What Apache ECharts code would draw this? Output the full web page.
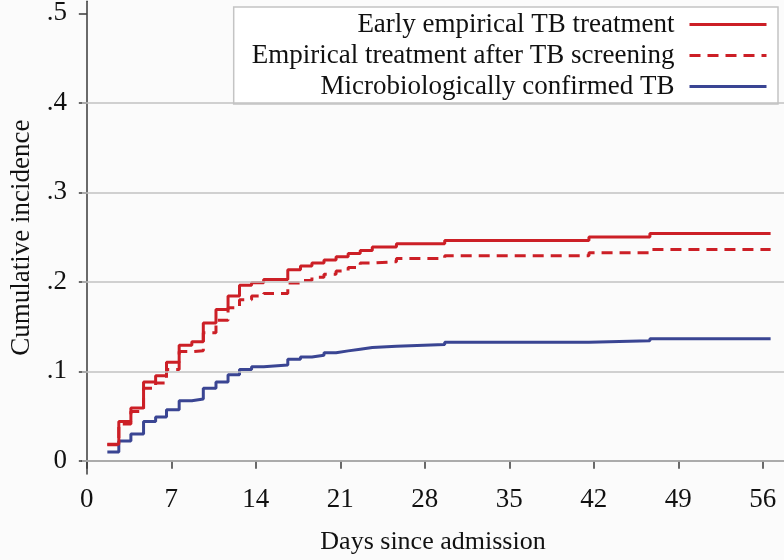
<!DOCTYPE html>
<html>
<head>
<meta charset="utf-8">
<script src="https://cdn.jsdelivr.net/npm/echarts@6/dist/echarts.min.js"></script>
<style>
html,body{margin:0;padding:0;background:#fbfbfb;}
#c{width:784px;height:560px;}
</style>
</head>
<body>
<div id="c"></div>
<script>
// Days since admission at which the step curves change
const days = [1.7, 2.65, 3.65, 4.7, 5.7, 6.6, 7.65, 8.7, 9.65, 10.7, 11.7, 12.65, 13.65, 14.65, 16.65, 17.7, 18.65, 19.65, 20.65, 21.65, 22.65, 23.65, 25.65, 29.65, 41.6, 46.65, 56.65];
const earlyEmpirical = [0.0185, 0.044, 0.059, 0.088, 0.095, 0.110, 0.129, 0.133, 0.154, 0.169, 0.184, 0.196, 0.199, 0.2025, 0.2135, 0.2177, 0.221, 0.2243, 0.228, 0.2315, 0.235, 0.239, 0.2425, 0.246, 0.250, 0.254, 0.254];
const afterScreening = [0.018, 0.041, 0.055, 0.081, 0.087, 0.102, 0.122, 0.123, 0.143, 0.157, 0.171, 0.180, 0.184, 0.187, 0.1986, 0.2015, 0.205, 0.2085, 0.212, 0.216, 0.221, 0.2225, 0.226, 0.229, 0.2325, 0.236, 0.236];
const microConfirmed = [0.0097, 0.022, 0.030, 0.044, 0.049, 0.057, 0.067, 0.069, 0.081, 0.088, 0.096, 0.102, 0.105, 0.107, 0.1135, 0.116, 0.118, 0.1206, 0.1228, 0.1247, 0.1265, 0.128, 0.130, 0.1325, 0.134, 0.1364, 0.1364];
const seriesNames = ['Early empirical TB treatment', 'Empirical treatment after TB screening', 'Microbiologically confirmed TB'];
const xTickValues = [0, 7, 14, 21, 28, 35, 42, 49, 56];
const yTickValues = [0, 0.1, 0.2, 0.3, 0.4, 0.5];
const yTickLabels = ['0', '.1', '.2', '.3', '.4', '.5'];
const yGridValues = [0, 0.1, 0.2, 0.3, 0.4];

const FONT = '"Liberation Serif", "Times New Roman", serif';
const RED = '#cc1f26';
const BLUE = '#3a4593';
const pairs = arr => days.map((d, i) => [d, arr[i]]);

const chart = echarts.init(document.getElementById('c'), null, {renderer: 'canvas'});
chart.setOption({
  backgroundColor: '#fbfbfb',
  animation: false,
  grid: {left: 79, right: 0, top: 0, bottom: 79, containLabel: false},
  xAxis: {
    type: 'value', min: -0.4, max: 57.76,
    name: 'Days since admission', nameLocation: 'middle', nameGap: 55,
    nameTextStyle: {fontFamily: FONT, fontSize: 26, color: '#111'},
    axisLine: {show: true, lineStyle: {color: '#3a3a3a', width: 1.5}},
    axisTick: {show: true, length: 8, inside: false, customValues: xTickValues, lineStyle: {color: '#3a3a3a', width: 1.5}},
    axisLabel: {customValues: xTickValues, margin: 12, fontFamily: FONT, fontSize: 27, color: '#111'},
    splitLine: {show: false}
  },
  yAxis: {
    type: 'value', min: -0.0148, max: 0.5134,
    name: 'Cumulative incidence', nameLocation: 'middle', nameGap: 47,
    nameTextStyle: {fontFamily: FONT, fontSize: 27, color: '#111'},
    axisLine: {show: true, lineStyle: {color: '#3a3a3a', width: 1.5}},
    axisTick: {show: true, length: 8, inside: false, customValues: yTickValues, lineStyle: {color: '#3a3a3a', width: 1.5}},
    axisLabel: {
      customValues: yTickValues, margin: 15, fontFamily: FONT, fontSize: 27, color: '#111',
      formatter: v => {
        let best = 0;
        yTickValues.forEach((t, i) => { if (Math.abs(t - v) < Math.abs(yTickValues[best] - v)) best = i; });
        return yTickLabels[best];
      }
    },
    splitLine: {show: false}
  },
  legend: {
    orient: 'vertical', right: 6, top: 7, align: 'right',
    data: seriesNames,
    itemWidth: 77, itemHeight: 2, itemGap: 4,
    padding: [4, 10, 4, 18],
    itemStyle: {opacity: 0},
    lineStyle: {width: 3},
    backgroundColor: '#ffffff', borderColor: '#c4c4c4', borderWidth: 1.5,
    textStyle: {fontFamily: FONT, fontSize: 27, color: '#111', padding: [0, 10, 0, 0]},
    selectedMode: false
  },
  series: [
    {
      type: 'line', name: '__grid', data: [], silent: true, z: 1,
      markLine: {
        silent: true, symbol: 'none', animation: false,
        label: {show: false},
        lineStyle: {color: '#c2c2c2', width: 1.5, type: 'solid'},
        data: yGridValues.map(v => ({yAxis: v}))
      }
    },
    {
      type: 'line', name: seriesNames[1], data: pairs(afterScreening), step: 'end', symbol: 'none', z: 3,
      lineStyle: {color: RED, width: 3, type: [11, 7]}, itemStyle: {color: RED}
    },
    {
      type: 'line', name: seriesNames[0], data: pairs(earlyEmpirical), step: 'end', symbol: 'none', z: 4,
      lineStyle: {color: RED, width: 3}, itemStyle: {color: RED}
    },
    {
      type: 'line', name: seriesNames[2], data: pairs(microConfirmed), step: 'end', symbol: 'none', z: 3,
      lineStyle: {color: BLUE, width: 3}, itemStyle: {color: BLUE}
    }
  ]
});
</script>
</body>
</html>
